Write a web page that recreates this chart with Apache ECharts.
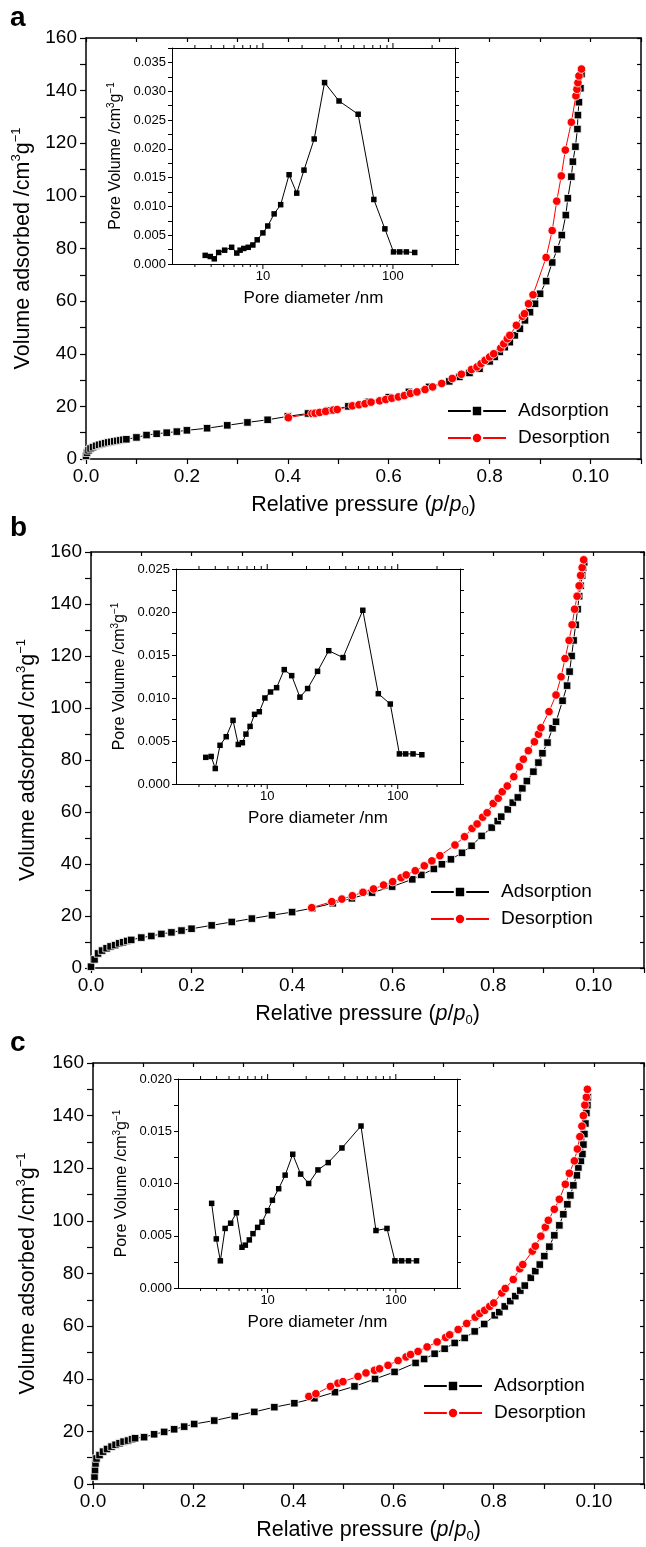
<!DOCTYPE html>
<html>
<head>
<meta charset="utf-8">
<script src="https://cdn.jsdelivr.net/npm/echarts@6/dist/echarts.min.js"></script>
<style>
html,body{margin:0;padding:0;background:#fff;}
#chart{width:646px;height:1547px;}
</style>
</head>
<body>
<div id="chart"></div>
<script>
// ---------------- DATA ----------------
// Tick labels
const mainXTickValues = [0, 0.2, 0.4, 0.6, 0.8, 1.0];
const mainXTickLabels = ['0.0', '0.2', '0.4', '0.6', '0.8', '0.10'];
const mainYTickValues = [0, 20, 40, 60, 80, 100, 120, 140, 160];
const mainYTickLabels = ['0', '20', '40', '60', '80', '100', '120', '140', '160'];
const insetXTickValues = [10, 100];
const insetXTickLabels = ['10', '100'];
const insetXMinorTickValues = [3, 4, 5, 6, 7, 8, 9, 10, 20, 30, 40, 50, 60, 70, 80, 90, 100, 200];
const insetYTickValuesA = [0, 0.005, 0.010, 0.015, 0.020, 0.025, 0.030, 0.035];
const insetYTickLabelsA = ['0.000', '0.005', '0.010', '0.015', '0.020', '0.025', '0.030', '0.035'];
const insetYTickValuesB = [0, 0.005, 0.010, 0.015, 0.020, 0.025];
const insetYTickLabelsB = ['0.000', '0.005', '0.010', '0.015', '0.020', '0.025'];
const insetYTickValuesC = [0, 0.005, 0.010, 0.015, 0.020];
const insetYTickLabelsC = ['0.000', '0.005', '0.010', '0.015', '0.020'];

// Panel a isotherm
const adsorptionA = [[0.0,1.2],[0.002,2.4],[0.005,3.3],[0.009,4.0],[0.014,4.5],[0.02,5.0],[0.026,5.4],[0.032,5.7],[0.038,6.0],[0.044,6.3],[0.05,6.5],[0.056,6.7],[0.062,6.9],[0.068,7.1],[0.074,7.3],[0.08,7.5],
[0.1,8.2],[0.12,9.1],[0.14,9.6],[0.16,10.0],[0.18,10.4],[0.2,10.9],[0.24,11.7],[0.28,12.8],[0.32,13.9],[0.36,14.9],[0.4,16.2],[0.44,17.3],[0.48,18.4],[0.52,20.0],[0.56,21.7],[0.6,23.5],[0.64,25.5],[0.68,27.4],[0.72,29.5],[0.74,31.2],[0.76,32.7],[0.78,34.3],[0.8,37.1],[0.81,38.8],[0.82,40.7],[0.83,42.5],[0.84,44.4],[0.85,47.0],[0.86,49.5],[0.87,52.7],[0.88,55.8],[0.89,59.0],[0.9,62.8],[0.912,67.6],[0.924,74.7],[0.934,79.7],[0.943,85.1],[0.951,92.7],[0.955,99.1],[0.962,107.3],[0.965,113.0],[0.97,118.7],[0.974,125.4],[0.975,130.7],[0.977,135.6],[0.98,140.9],[0.982,146.3]];
const desorptionA = [[0.401,15.7],[0.448,17.3],[0.454,17.4],[0.463,17.7],[0.475,18.1],[0.49,18.6],[0.498,18.8],[0.528,20.2],[0.541,20.6],[0.553,21.0],[0.565,21.6],[0.582,22.1],[0.594,22.6],[0.606,23.1],[0.619,23.6],[0.631,24.1],[0.643,24.9],[0.656,25.5],[0.672,26.4],[0.687,27.4],[0.705,28.7],[0.726,30.6],[0.744,32.2],[0.764,34.0],[0.775,35.0],[0.783,36.2],[0.791,37.5],[0.8,38.8],[0.808,40.0],[0.822,42.2],[0.828,43.8],[0.835,45.7],[0.84,47.0],[0.853,50.8],[0.865,54.2],[0.869,55.2],[0.877,59.0],[0.886,62.4],[0.912,76.6],[0.924,86.8],[0.933,98.0],[0.942,107.6],[0.95,117.4],[0.962,128.0],[0.971,138.0],[0.973,140.5],[0.975,143.0],[0.977,145.6],[0.982,148.2]];

// Panel b isotherm
const adsorptionB = [[0.0,0.5],[0.007,3.3],[0.014,5.6],[0.022,6.7],[0.031,7.6],[0.039,8.3],[0.048,8.8],[0.056,9.5],[0.064,9.9],[0.072,10.4],[0.08,10.8],[0.1,11.7],[0.12,12.3],[0.14,13.1],[0.16,13.7],[0.18,14.4],[0.2,15.1],[0.24,16.4],[0.28,17.7],[0.32,19.0],[0.36,20.3],[0.4,21.5],[0.44,23.0],[0.481,24.9],[0.519,26.8],[0.559,29.0],[0.599,31.3],[0.639,34.1],[0.657,35.8],[0.682,38.1],[0.698,39.9],[0.716,41.8],[0.738,44.3],[0.757,47.0],[0.777,50.8],[0.797,54.0],[0.809,56.5],[0.816,58.2],[0.829,61.0],[0.839,63.6],[0.849,65.6],[0.858,69.1],[0.867,71.9],[0.88,75.5],[0.89,79.0],[0.898,82.6],[0.908,86.7],[0.918,92.2],[0.925,94.7],[0.938,102.8],[0.947,108.6],[0.952,114.0],[0.956,120.0],[0.96,126.0],[0.964,132.0],[0.968,138.0],[0.971,143.0],[0.974,147.0],[0.977,151.0],[0.979,154.0],[0.981,156.0]];
const desorptionB = [[0.439,23.2],[0.479,25.5],[0.499,26.5],[0.52,27.8],[0.541,29.1],[0.562,30.4],[0.582,31.9],[0.6,33.2],[0.617,34.7],[0.627,35.8],[0.645,37.4],[0.663,39.3],[0.678,41.2],[0.694,43.2],[0.724,47.3],[0.743,50.5],[0.758,53.7],[0.768,55.4],[0.779,58.0],[0.788,59.7],[0.8,63.3],[0.81,65.3],[0.818,67.8],[0.828,70.0],[0.841,73.6],[0.852,77.4],[0.86,80.3],[0.87,83.6],[0.882,87.0],[0.89,89.9],[0.895,92.4],[0.911,98.6],[0.925,105.0],[0.935,112.0],[0.943,119.0],[0.951,126.0],[0.957,132.0],[0.962,138.0],[0.967,143.0],[0.971,147.0],[0.974,151.0],[0.977,154.0],[0.98,157.0]];

// Panel c isotherm
const adsorptionC = [[0.003,2.8],[0.004,5.3],[0.005,7.8],[0.007,9.7],[0.013,11.0],[0.02,12.3],[0.028,13.3],[0.037,14.2],[0.045,14.9],[0.053,15.5],[0.061,16.1],[0.07,16.5],[0.078,17.0],[0.084,17.4],[0.102,17.8],[0.122,18.9],[0.142,19.8],[0.162,20.8],[0.182,21.8],[0.202,22.8],[0.242,24.1],[0.283,25.8],[0.322,27.4],[0.362,29.2],[0.402,30.7],[0.442,32.6],[0.483,34.9],[0.522,37.1],[0.563,39.9],[0.602,42.6],[0.644,46.0],[0.661,47.5],[0.682,49.5],[0.702,51.4],[0.722,53.6],[0.742,55.5],[0.762,58.0],[0.781,60.8],[0.802,64.1],[0.811,65.3],[0.822,67.5],[0.833,69.5],[0.843,71.4],[0.853,73.5],[0.862,75.4],[0.874,78.4],[0.883,80.9],[0.892,83.4],[0.901,86.6],[0.911,90.2],[0.921,94.5],[0.931,98.3],[0.939,102.5],[0.947,106.3],[0.953,109.7],[0.959,113.5],[0.966,117.3],[0.969,120.3],[0.974,122.8],[0.977,125.4],[0.979,129.0],[0.981,133.0],[0.983,137.0],[0.985,141.0],[0.987,144.0],[0.988,147.0]];
const desorptionC = [[0.431,33.3],[0.445,34.3],[0.474,37.1],[0.489,38.3],[0.499,38.9],[0.529,40.9],[0.545,42.2],[0.562,43.2],[0.572,43.8],[0.589,45.1],[0.609,46.9],[0.625,48.3],[0.634,49.2],[0.649,50.4],[0.667,52.1],[0.687,54.0],[0.704,55.7],[0.712,56.7],[0.729,58.7],[0.746,61.0],[0.763,63.4],[0.772,64.8],[0.782,66.0],[0.792,67.5],[0.8,68.8],[0.816,72.6],[0.823,74.3],[0.839,77.7],[0.852,81.8],[0.858,83.4],[0.877,88.5],[0.883,90.4],[0.894,94.2],[0.903,97.6],[0.909,100.2],[0.921,104.4],[0.931,108.2],[0.943,113.9],[0.951,118.1],[0.961,122.8],[0.967,127.3],[0.972,132.0],[0.976,136.0],[0.979,140.0],[0.982,144.0],[0.985,147.0],[0.987,150.0]];

// Insets: pore size distribution
const poreDiameterA = [3.6,3.94,4.23,4.57,5.08,5.75,6.3,6.68,7.13,7.71,8.37,9.04,10,10.9,12.2,13.7,15.9,18.2,20.7,24.8,29.8,38.5,54,71.3,86.7,101,112.8,126.8,147];
const poreVolumeA = [0.0015,0.0013,0.0009,0.0020,0.0024,0.0029,0.0019,0.0024,0.0027,0.0029,0.0033,0.0042,0.0054,0.0066,0.0087,0.0103,0.0155,0.0123,0.0163,0.0217,0.0315,0.0283,0.0260,0.0112,0.0061,0.0021,0.0021,0.0021,0.0020];
const poreDiameterB = [3.38,3.72,4.0,4.35,4.85,5.47,6.0,6.45,6.87,7.39,8.0,8.7,9.6,10.6,11.8,13.5,15.4,17.8,20.4,24.3,29.6,38.1,54,71,87.7,103,115,131,153];
const poreVolumeB = [0.0031,0.0032,0.0018,0.0045,0.0055,0.0074,0.0046,0.0048,0.0058,0.0067,0.0081,0.0084,0.0100,0.0107,0.0112,0.0133,0.0126,0.0101,0.0111,0.0131,0.0155,0.0147,0.0202,0.0105,0.0093,0.0035,0.0035,0.0035,0.0034];
const poreDiameterC = [3.66,3.98,4.28,4.66,5.15,5.71,6.31,6.70,7.20,7.69,8.36,9.04,10,10.9,12.2,13.7,15.7,18.1,20.9,24.7,29.7,38.0,53.5,70,85.3,98.4,111,125.6,145];
const poreVolumeC = [0.0081,0.0047,0.0026,0.0057,0.0062,0.0072,0.0039,0.0041,0.0046,0.0052,0.0058,0.0063,0.0074,0.0084,0.0095,0.0108,0.0128,0.0109,0.0100,0.0113,0.0120,0.0134,0.0155,0.0055,0.0057,0.0026,0.0026,0.0026,0.0026];

// ---------------- LAYOUT ----------------
const FONT = "'Liberation Sans', Arial, Helvetica, sans-serif";
const BLACK = '#000000';
const RED = '#ff0000';

const panels = [
  { letter: 'a', letterTop: 4,
    main: { left: 86, top: 38, width: 555, height: 421 }, yNameGap: 43,
    inset: { left: 172, top: 48, width: 283, height: 216 },
    insetYMax: 0.0375, insetYTicks: [insetYTickValuesA, insetYTickLabelsA],
    legend: { left: 447, top: 401 },
    ads: adsorptionA, des: desorptionA, pore: [poreDiameterA, poreVolumeA] },
  { letter: 'b', letterTop: 514,
    main: { left: 91, top: 552, width: 553, height: 416 }, yNameGap: 48,
    inset: { left: 176, top: 569, width: 284, height: 215 },
    insetYMax: 0.025, insetYTicks: [insetYTickValuesB, insetYTickLabelsB],
    legend: { left: 430, top: 882 },
    ads: adsorptionB, des: desorptionB, pore: [poreDiameterB, poreVolumeB] },
  { letter: 'c', letterTop: 1029,
    main: { left: 93, top: 1063, width: 551, height: 421 }, yNameGap: 52,
    inset: { left: 178, top: 1079, width: 279, height: 209 },
    insetYMax: 0.020, insetYTicks: [insetYTickValuesC, insetYTickLabelsC],
    legend: { left: 423, top: 1376 },
    ads: adsorptionC, des: desorptionC, pore: [poreDiameterC, poreVolumeC] }
];

function fmt(values, labels) {
  return function (v) {
    for (let i = 0; i < values.length; i++) {
      if (Math.abs(values[i] - v) < 1e-7 * Math.max(1, Math.abs(values[i]))) return labels[i];
    }
    return '';
  };
}

const richBig = {
  t: { fontSize: 21.5, fontFamily: FONT, color: BLACK, lineHeight: 26 },
  i: { fontSize: 21.5, fontFamily: FONT, color: BLACK, lineHeight: 26, fontStyle: 'italic' },
  s: { fontSize: 13, fontFamily: FONT, color: BLACK, lineHeight: 13, verticalAlign: 'top' },
  b: { fontSize: 13, fontFamily: FONT, color: BLACK, lineHeight: 13, verticalAlign: 'bottom' }
};
const richSmall = {
  t: { fontSize: 16, fontFamily: FONT, color: BLACK, lineHeight: 20 },
  s: { fontSize: 10, fontFamily: FONT, color: BLACK, lineHeight: 10, verticalAlign: 'top' }
};

const grids = [], xAxes = [], yAxes = [], series = [], legends = [], graphics = [];

panels.forEach(function (p, pi) {
  const gMain = 2 * pi, gInset = 2 * pi + 1;
  grids.push(Object.assign({ containLabel: false, outerBoundsMode: 'none', show: false }, p.main));
  grids.push(Object.assign({ containLabel: false, outerBoundsMode: 'none', show: false }, p.inset));

  const lineMain = { show: true, onZero: false, lineStyle: { color: BLACK, width: 1.5 } };
  const lineInset = { show: true, onZero: false, lineStyle: { color: BLACK, width: 1 } };

  // main x bottom / top
  xAxes.push({
    type: 'value', gridIndex: gMain, position: 'bottom', min: 0, max: 1.1, interval: 0.1,
    axisLine: lineMain,
    axisTick: { show: true, inside: false, length: 5, lineStyle: { color: BLACK, width: 1.2 } },
    axisLabel: { formatter: fmt(mainXTickValues, mainXTickLabels), fontSize: 19, fontFamily: FONT, color: BLACK, margin: 8 },
    splitLine: { show: false },
    name: '{t|Relative pressure (}{i|p}{t|/}{i|p}{b|0}{t|)}',
    nameLocation: 'middle', nameGap: 33,
    nameTextStyle: { rich: richBig }
  });
  xAxes.push({
    type: 'value', gridIndex: gMain, position: 'top', min: 0, max: 1.1, interval: 0.1,
    axisLine: lineMain,
    axisTick: { show: true, inside: true, length: 4, lineStyle: { color: BLACK, width: 1.2 } },
    axisLabel: { show: false }, splitLine: { show: false }
  });
  // inset x bottom / top (log)
  xAxes.push({
    type: 'log', logBase: 10, gridIndex: gInset, position: 'bottom', min: 2, max: 300,
    axisLine: lineInset, axisTick: { show: false },
    axisLabel: { formatter: fmt(insetXTickValues, insetXTickLabels), fontSize: 13, fontFamily: FONT, color: BLACK, margin: 6 },
    splitLine: { show: false }, minorTick: { show: false },
    name: 'Pore diameter /nm', nameLocation: 'middle', nameGap: 26,
    nameTextStyle: { fontSize: 17, fontFamily: FONT, color: BLACK }
  });
  xAxes.push({
    type: 'log', logBase: 10, gridIndex: gInset, position: 'top', min: 2, max: 300,
    axisLine: lineInset, axisTick: { show: false }, axisLabel: { show: false }, splitLine: { show: false }
  });

  // main y left / right
  yAxes.push({
    type: 'value', gridIndex: gMain, position: 'left', min: 0, max: 160, interval: 10,
    axisLine: lineMain,
    axisTick: { show: true, inside: false, length: 6, lineStyle: { color: BLACK, width: 1.2 } },
    axisLabel: { formatter: fmt(mainYTickValues, mainYTickLabels), fontSize: 19, fontFamily: FONT, color: BLACK, margin: 9 },
    splitLine: { show: false },
    name: '{t|Volume adsorbed /cm}{s|3}{t|g}{s|\u22121}',
    nameLocation: 'middle', nameGap: p.yNameGap,
    nameTextStyle: { rich: richBig }
  });
  yAxes.push({
    type: 'value', gridIndex: gMain, position: 'right', min: 0, max: 160, interval: 10,
    axisLine: lineMain,
    axisTick: { show: true, inside: true, length: 4, lineStyle: { color: BLACK, width: 1.2 } },
    axisLabel: { show: false }, splitLine: { show: false }
  });
  // inset y left / right
  yAxes.push({
    type: 'value', gridIndex: gInset, position: 'left', min: 0, max: p.insetYMax, interval: 0.0025,
    axisLine: lineInset,
    axisTick: { show: true, inside: false, length: 4, lineStyle: { color: BLACK, width: 1 } },
    axisLabel: { formatter: fmt(p.insetYTicks[0], p.insetYTicks[1]), fontSize: 13, fontFamily: FONT, color: BLACK, margin: 6 },
    splitLine: { show: false },
    name: '{t|Pore Volume /cm}{s|3}{t|g}{s|\u22121}',
    nameLocation: 'middle', nameGap: 46,
    nameTextStyle: { rich: richSmall }
  });
  yAxes.push({
    type: 'value', gridIndex: gInset, position: 'right', min: 0, max: p.insetYMax, interval: 0.0025,
    axisLine: lineInset,
    axisTick: { show: true, inside: false, length: 4, lineStyle: { color: BLACK, width: 1 } },
    axisLabel: { show: false }, splitLine: { show: false }
  });

  const xi = 4 * pi, yi = 4 * pi;
  series.push({
    type: 'line', name: 'Adsorption', xAxisIndex: xi, yAxisIndex: yi, data: p.ads,
    symbol: 'rect', symbolSize: 7.5, showSymbol: true, showAllSymbol: true,
    lineStyle: { color: BLACK, width: 1 },
    itemStyle: { color: BLACK, borderColor: '#ffffff', borderWidth: 0.8 },
    emphasis: { disabled: true }, z: 2, animation: false
  });
  series.push({
    type: 'line', name: 'Desorption', xAxisIndex: xi, yAxisIndex: yi, data: p.des,
    symbol: 'circle', symbolSize: 8.5, showSymbol: true, showAllSymbol: true,
    lineStyle: { color: RED, width: 1 },
    itemStyle: { color: RED, borderColor: '#ffffff', borderWidth: 0.8 },
    emphasis: { disabled: true }, z: 3, animation: false
  });
  series.push({
    type: 'line', name: 'PSD ' + p.letter, xAxisIndex: xi + 2, yAxisIndex: yi + 2,
    data: p.pore[0].map(function (d, k) { return [d, p.pore[1][k]]; }),
    symbol: 'rect', symbolSize: 5.5, showSymbol: true, showAllSymbol: true,
    lineStyle: { color: BLACK, width: 1 }, itemStyle: { color: BLACK },
    emphasis: { disabled: true }, z: 4, animation: false
  });
  // log-axis ticks (major and minor) for the inset, placed through the log scale
  series.push({
    type: 'custom', name: 'ticks ' + p.letter, xAxisIndex: xi + 2, yAxisIndex: yi + 2,
    coordinateSystem: 'cartesian2d', silent: true, clip: false, z: 5, animation: false,
    data: insetXMinorTickValues.map(function (v) { return [v, 0]; }),
    renderItem: (function (ymax) {
      return function (params, api) {
        const v = api.value(0);
        const lg = Math.log10(v);
        const major = Math.abs(lg - Math.round(lg)) < 1e-9;
        const len = major ? 5 : 3;
        const b = api.coord([v, 0]);
        const t = api.coord([v, ymax]);
        return { type: 'group', children: [
          { type: 'line', shape: { x1: b[0], y1: b[1], x2: b[0], y2: b[1] + len }, style: { stroke: BLACK, lineWidth: 1 } },
          { type: 'line', shape: { x1: t[0], y1: t[1], x2: t[0], y2: t[1] - len }, style: { stroke: BLACK, lineWidth: 1 } }
        ] };
      };
    })(p.insetYMax)
  });

  legends.push({
    show: true, orient: 'vertical', left: p.legend.left, top: p.legend.top, padding: 0,
    data: ['Adsorption', 'Desorption'], itemWidth: 58, itemHeight: 13, itemGap: 7,
    selectedMode: false,
    textStyle: { fontSize: 19, fontFamily: FONT, color: BLACK, lineHeight: 20, padding: [0, 0, 0, 7] }
  });

  graphics.push({
    type: 'text', left: 10, top: p.letterTop,
    style: { text: p.letter, font: 'bold 28px ' + FONT, fill: BLACK }
  });
});

const chart = echarts.init(document.getElementById('chart'), null, { renderer: 'canvas' });
chart.setOption({
  animation: false,
  backgroundColor: '#ffffff',
  textStyle: { fontFamily: FONT, color: BLACK },
  grid: grids, xAxis: xAxes, yAxis: yAxes, series: series, legend: legends, graphic: graphics,
  tooltip: { show: false }
});
</script>
</body>
</html>
